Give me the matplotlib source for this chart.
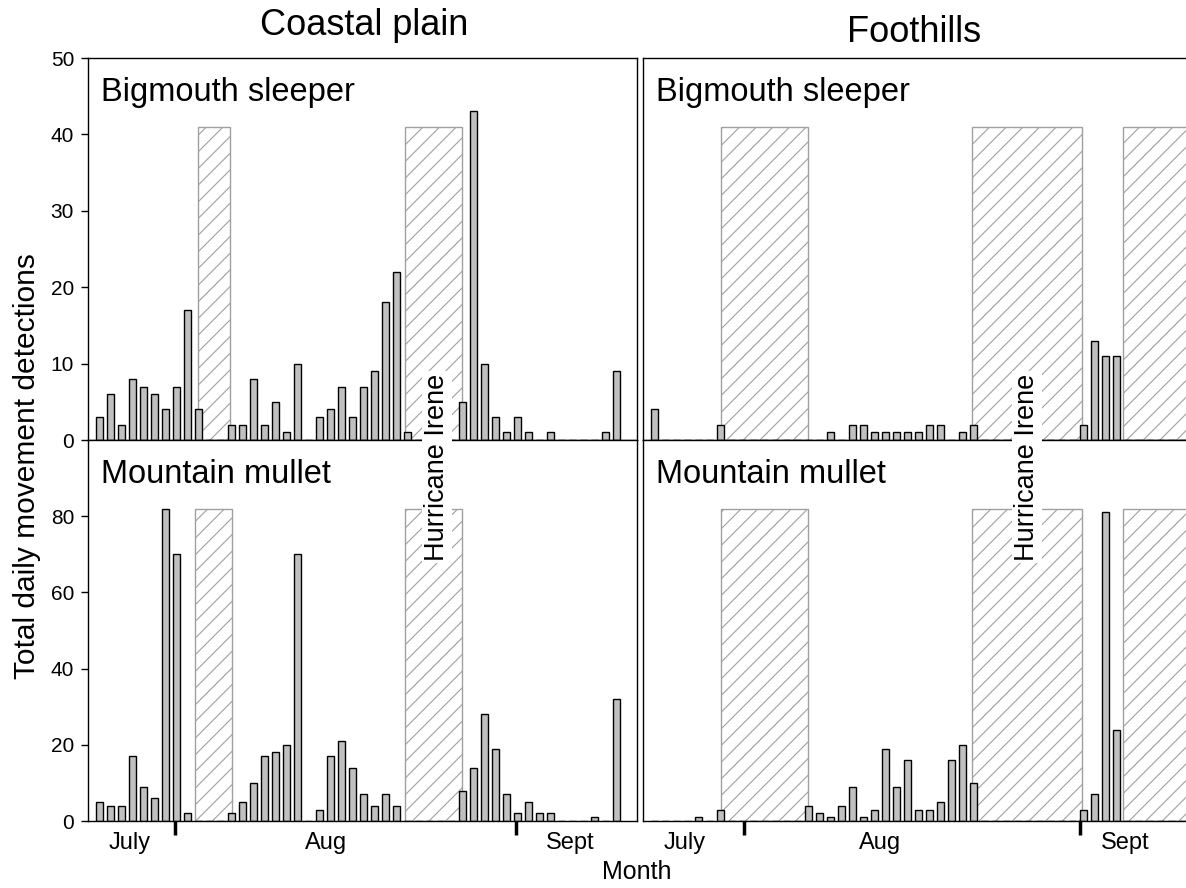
import matplotlib as mpl

mpl.use('Agg')

import matplotlib.pyplot as plt
from matplotlib.ticker import FixedLocator, FixedFormatter, NullFormatter

plt.rcParams['font.family'] = ['Liberation Sans', 'DejaVu Sans']
plt.rcParams['hatch.linewidth'] = 0.8

# daily totals, one value per day (index = day within the plotted window)
coastal_sleeper = [3, 6, 2, 8, 7, 6, 4, 7, 17, 4, 0, 0, 2, 2, 8, 2, 5, 1, 10, 0,
                   3, 4, 7, 3, 7, 9, 18, 22, 1, 0, 0, 0, 0, 5, 43, 10, 3, 1, 3, 1,
                   0, 1, 0, 0, 0, 0, 1, 9]
coastal_mullet = [5, 4, 4, 17, 9, 6, 82, 70, 2, 0, 0, 0, 2, 5, 10, 17, 18, 20, 70, 0,
                  3, 17, 21, 14, 7, 4, 7, 4, 0, 0, 0, 0, 0, 8, 14, 28, 19, 7, 2, 5,
                  2, 2, 0, 0, 0, 1, 0, 32]
foothills_sleeper = [4, 0, 0, 0, 0, 0, 2, 0, 0, 0, 0, 0, 0, 0, 0, 0, 1, 0, 2, 2,
                     1, 1, 1, 1, 1, 2, 2, 0, 1, 2, 0, 0, 0, 0, 0, 0, 0, 0, 0, 2,
                     13, 11, 11, 0, 0, 0, 0, 0, 0]
foothills_mullet = [0, 0, 0, 0, 1, 0, 3, 0, 0, 0, 0, 0, 0, 0, 4, 2, 1, 4, 9, 1,
                    3, 19, 9, 16, 3, 3, 5, 16, 20, 10, 0, 0, 0, 0, 0, 0, 0, 0, 0, 3,
                    7, 81, 24, 0, 0, 0, 0, 0, 0]

# periods with no monitoring (start, end in days)
coastal_gaps_top = [(8.98, 11.89), (27.77, 32.98)]
coastal_gaps_bottom = [(8.68, 12.02), (27.77, 32.98)]
foothills_gaps = [(6.07, 13.98), (28.89, 38.89), (42.62, 49.5)]
gap_height_top = 41
gap_height_bottom = 82

months = ['July', 'Aug', 'Sept']
month_label_pos = [2.75, 20.55, 42.8]
coastal_month_ticks = [6.86, 37.9]
foothills_month_ticks = [8.16, 38.68]

W, H = 1186, 888
fig = plt.figure(figsize=(W / 100, H / 100), dpi=100)


def px_axes(x0, x1, y0, y1):
    return fig.add_axes([x0 / W, 1 - y1 / H, (x1 - x0) / W, (y1 - y0) / H])


ax_ct = px_axes(88, 637, 58, 440)
ax_cb = px_axes(88, 637, 440, 821)
ax_ft = px_axes(643, 1186, 58, 440)
ax_fb = px_axes(643, 1186, 440, 821)

panels = [
    (ax_ct, coastal_sleeper, coastal_gaps_top, gap_height_top, 50, (-1.05, 48.86), 'Bigmouth sleeper'),
    (ax_cb, coastal_mullet, coastal_gaps_bottom, gap_height_bottom, 100, (-1.05, 48.86), 'Mountain mullet'),
    (ax_ft, foothills_sleeper, foothills_gaps, gap_height_top, 50, (-1.02, 48.3), 'Bigmouth sleeper'),
    (ax_fb, foothills_mullet, foothills_gaps, gap_height_bottom, 100, (-1.02, 48.3), 'Mountain mullet'),
]

for ax, vals, gaps, gh, ytop, xl, name in panels:
    for g0, g1 in gaps:
        ax.bar(g0, gh, width=g1 - g0, align='edge', facecolor='white',
               edgecolor='#a0a0a0', hatch='//', linewidth=1.0, zorder=1)
    days = range(len(vals))
    ax.bar(days, vals, width=0.62, facecolor='#c0c0c0', edgecolor='black',
           linewidth=1.0, zorder=2)
    ax.set_xlim(*xl)
    ax.set_ylim(0, ytop)
    ax.text(0.024, 0.888, name, transform=ax.transAxes, fontsize=23.5,
            va='baseline', ha='left')
    for s in ax.spines.values():
        s.set_linewidth(1.0)
    ax.tick_params(axis='y', direction='out', length=5, width=1, labelsize=15, pad=5)

for ax in (ax_ft, ax_fb):
    ax.set_yticks([])
    ax.spines['right'].set_visible(False)
for ax in (ax_ct, ax_ft):
    ax.set_xticks([])

ax_ct.set_yticks([0, 10, 20, 30, 40, 50])
ax_cb.set_yticks([0, 20, 40, 60, 80])

for ax, ticks in ((ax_cb, coastal_month_ticks), (ax_fb, foothills_month_ticks)):
    ax.xaxis.set_major_locator(FixedLocator(ticks))
    ax.xaxis.set_major_formatter(NullFormatter())
    ax.xaxis.set_minor_locator(FixedLocator(month_label_pos))
    ax.xaxis.set_minor_formatter(FixedFormatter(months))
    ax.tick_params(axis='x', which='major', direction='out', length=10, width=2.5)
    ax.tick_params(axis='x', which='minor', length=0, labelsize=17, pad=8)

fig.text(364 / W, 1 - 35 / H, 'Coastal plain', fontsize=26, ha='center', va='baseline')
fig.text(914 / W, 1 - 42 / H, 'Foothills', fontsize=26, ha='center', va='baseline')
fig.text(27 / W, 1 - 466 / H, 'Total daily movement detections', fontsize=21.5,
         rotation=90, ha='center', va='center')
fig.text(637 / W, 1 - 872 / H, 'Month', fontsize=18, ha='center', va='center')

for xc in (437, 1027):
    fig.text(xc / W, 1 - 467 / H, 'Hurricane Irene', fontsize=19.5, rotation=90,
             ha='center', va='center', zorder=10,
             bbox=dict(facecolor='white', edgecolor='none', pad=1.5))

fig.savefig('out.png', dpi=100)
